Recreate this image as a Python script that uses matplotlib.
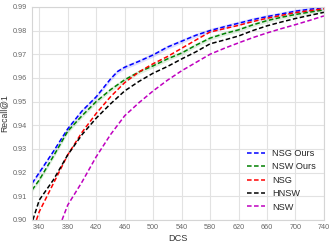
import numpy as np
import matplotlib
matplotlib.use("Agg")
import matplotlib.pyplot as plt
import seaborn as sns

# ---- Data ----
nsg_ours_x = [330, 340, 360, 380, 400, 420, 440, 450, 460, 480, 500, 520, 540, 560,
              580, 600, 620, 640, 660, 680, 700, 720, 740]
nsg_ours_y = [0.9155, 0.920, 0.929, 0.9385, 0.946, 0.952, 0.9595, 0.9627, 0.9645, 0.967,
              0.9697, 0.973, 0.9755, 0.978, 0.9800, 0.9816, 0.9831, 0.9846, 0.9859, 0.9870,
              0.9882, 0.9890, 0.9897]

nsw_ours_x = [330, 340, 360, 380, 400, 420, 440, 460, 480, 500, 520, 540, 560, 580,
              600, 620, 640, 660, 680, 700, 720, 740]
nsw_ours_y = [0.9127, 0.9169, 0.927, 0.9375, 0.944, 0.950, 0.955, 0.9592, 0.9625, 0.9651,
              0.968, 0.9705, 0.9738, 0.9768, 0.9787, 0.9803, 0.9824, 0.9842, 0.9856, 0.9868,
              0.9878, 0.9887]

nsg_x = [336, 340, 360, 380, 400, 420, 440, 460, 480, 500, 520, 540, 560, 580,
         600, 620, 640, 660, 680, 700, 720, 740]
nsg_y = [0.900, 0.9035, 0.9155, 0.9275, 0.937, 0.945, 0.952, 0.958, 0.9625, 0.966,
         0.969, 0.9725, 0.976, 0.9794, 0.9808, 0.9822, 0.9838, 0.9852, 0.9864, 0.9876,
         0.9884, 0.9892]

hnsw_x = [331, 340, 360, 380, 400, 420, 440, 460, 480, 500, 520, 540, 560, 580,
          600, 620, 640, 660, 680, 700, 720, 740]
hnsw_y = [0.900, 0.9084, 0.917, 0.9275, 0.936, 0.943, 0.949, 0.9545, 0.9585, 0.962,
          0.9648, 0.968, 0.971, 0.9744, 0.976, 0.9777, 0.980, 0.9820, 0.9836, 0.9851,
          0.9864, 0.9877]

nsw_x = [372, 380, 400, 420, 440, 460, 480, 500, 520, 540, 560, 580, 600, 620,
         640, 660, 680, 700, 720, 740]
nsw_y = [0.900, 0.9063, 0.916, 0.9267, 0.936, 0.944, 0.9495, 0.9545, 0.959, 0.963,
         0.9665, 0.9700, 0.9725, 0.9748, 0.977, 0.979, 0.9808, 0.9825, 0.9843, 0.9862]

series = [
    ("NSG Ours", nsg_ours_x, nsg_ours_y, "b", True),
    ("NSW Ours", nsw_ours_x, nsw_ours_y, "g", True),
    ("NSG", nsg_x, nsg_y, "r", False),
    ("HNSW", hnsw_x, hnsw_y, "k", False),
    ("NSW", nsw_x, nsw_y, "m", False),
]

x_ticks = [340, 380, 420, 460, 500, 540, 580, 620, 660, 700, 740]
y_ticks = [0.90, 0.91, 0.92, 0.93, 0.94, 0.95, 0.96, 0.97, 0.98, 0.99]

# ---- Plot ----
sns.set_style("whitegrid")
plt.rcParams['font.family'] = ['Liberation Sans', 'DejaVu Sans']

fig = plt.figure(figsize=(3.35, 2.46), dpi=100)
ax = fig.add_axes([0.096, 0.106, 0.871, 0.866])

for name, xs, ys, col, band in series:
    xs = np.array(xs)
    ys = np.array(ys)
    if band:
        ax.fill_between(xs, ys - 0.0009, ys + 0.0009, color=col, alpha=0.12, lw=0)
    ax.plot(xs, ys, color=col, ls=(0, (3, 1.6)), lw=1.1, label=name)

ax.set_xlim(330, 740)
ax.set_ylim(0.90, 0.99)
ax.set_xticks(x_ticks)
ax.set_yticks(y_ticks)
ax.set_xticklabels([str(v) for v in x_ticks], fontsize=5.2, color="#666666")
ax.set_yticklabels(["%.2f" % v for v in y_ticks], fontsize=5.2, color="#666666")
ax.tick_params(axis="x", length=0, pad=3)
ax.tick_params(axis="y", length=0, pad=4)
ax.grid(True, color="#e2e2e2", lw=0.8)
for sp in ax.spines.values():
    sp.set_color("#d5d5d5")
    sp.set_linewidth(0.8)

ax.set_xlabel("DCS", fontsize=6.6, color="#333333", labelpad=2)
ax.set_ylabel("Recall@1", fontsize=6.2, color="#333333", labelpad=3)

ax.legend(loc="lower right", frameon=False, fontsize=6.6, handlelength=2.0,
          handletextpad=0.75, labelspacing=0.48, borderaxespad=0.5)

fig.savefig("out.png", dpi=100)
